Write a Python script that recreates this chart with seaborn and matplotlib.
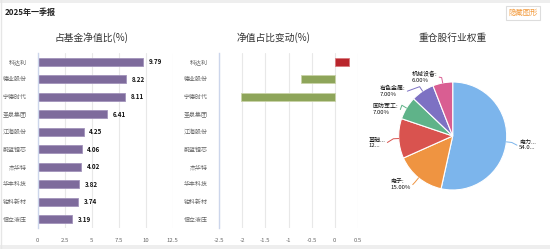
import numpy as np
import pandas as pd
import matplotlib
matplotlib.use("Agg")
import matplotlib.pyplot as plt
import seaborn as sns

sns.set_theme(style="white")
plt.rcParams['font.family'] = ['Noto Sans CJK SC', 'DejaVu Sans']
plt.rcParams['axes.unicode_minus'] = False

# ---------------- data ----------------
stocks = ['科达利', '德业股份', '宁德时代', '圣泉集团', '江海股份',
          '蔚蓝锂芯', '杰华特', '华丰科技', '铂科新材', '恒立液压']
nav_ratio = [9.79, 8.22, 8.11, 6.41, 4.25, 4.06, 4.02, 3.82, 3.74, 3.19]
change_stocks = ['科达利', '德业股份', '宁德时代']
change_values = [0.30, -0.72, -2.02]

industries = ['电力设备', '电子', '基础化工', '国防军工', '有色金属', '机械设备']
industry_labels = ['电力...\n54.0...', '电子:\n15.00%', '基础...\n12...',
                   '国防军工:\n7.00%', '有色金属:\n7.00%', '机械设备:\n6.00%']
industry_weights = [54.0, 15.0, 12.0, 7.0, 7.0, 6.0]

left_ticks = [0, 2.5, 5, 7.5, 10, 12.5]
mid_ticks = [-2.5, -2, -1.5, -1, -0.5, 0, 0.5]

# ---------------- figure ----------------
W, H = 550, 249
fig = plt.figure(figsize=(W / 100, H / 100), dpi=100)
fig.patch.set_facecolor('white')

def fx(px):
    return px / W

def fy(py):
    return 1 - py / H

# frame bands
fig.add_artist(plt.Rectangle((0, fy(3)), 1, 3 / H, transform=fig.transFigure,
                             facecolor='#eeeeee', edgecolor='none'))
fig.add_artist(plt.Rectangle((0, 0), 1, 4 / H, transform=fig.transFigure,
                             facecolor='#eeeeee', edgecolor='none'))
fig.add_artist(plt.Line2D([fx(1), fx(1)], [0, 1], transform=fig.transFigure,
                          color='#e6e6e6', lw=1))

fig.text(fx(5), fy(12), '2025年一季报', fontsize=5.8, fontweight='bold',
         color='#222222', ha='left', va='center')
fig.text(fx(523), fy(13), '隐藏图形', fontsize=5.3, color='#f39a3c',
         ha='center', va='center',
         bbox=dict(boxstyle='square,pad=0.35', facecolor='white',
                   edgecolor='#dddddd', lw=0.8))

title_kw = dict(fontsize=7, color='#333333', ha='center', va='center')
fig.text(fx(91), fy(38), '占基金净值比(%)', **title_kw)
fig.text(fx(274), fy(38), '净值占比变动(%)', **title_kw)
fig.text(fx(453), fy(38), '重仓股行业权重', **title_kw)

axis_col = '#ccd6eb'
grid_col = '#e8e8e8'

def style_bar_axis(ax, ticks):
    ax.set_xticks(ticks)
    ax.set_xticklabels([('%g' % t) for t in ticks])
    ax.set_xlim(ticks[0], ticks[-1])
    ax.set_ylim(len(stocks) - 0.5, -0.5)
    ax.set_xlabel('')
    ax.set_ylabel('')
    for s in ['top', 'right', 'bottom']:
        ax.spines[s].set_visible(False)
    ax.spines['left'].set_color(axis_col)
    ax.spines['left'].set_linewidth(1)
    ax.grid(axis='x', color=grid_col, lw=0.8)
    ax.set_axisbelow(True)
    ax.tick_params(axis='x', length=0, labelsize=4.3, labelcolor='#666666', pad=7)
    ax.tick_params(axis='y', which='major', length=0, labelsize=4.3,
                   labelcolor='#666666', pad=8)
    ax.set_yticks(np.arange(-0.5, len(stocks), 1), minor=True)
    ax.tick_params(axis='y', which='minor', length=3, color=axis_col, width=1)

# ---------------- left chart ----------------
ax1 = fig.add_axes([fx(37.7), fy(228), fx(135), 175 / H])
df1 = pd.DataFrame({'stock': stocks, 'value': nav_ratio})
sns.barplot(data=df1, y='stock', x='value', order=stocks, orient='h',
            color='#7e6b9c', saturation=1, width=0.44, ax=ax1,
            edgecolor='#a293bb', linewidth=0.6)
style_bar_axis(ax1, left_ticks)
for i, v in enumerate(nav_ratio):
    ax1.annotate(f'{v:.2f}', xy=(v, i), xytext=(4, 0), textcoords='offset points',
                 fontsize=4.5, fontweight='bold', color='#111111',
                 ha='left', va='center')

# ---------------- middle chart ----------------
ax2 = fig.add_axes([fx(219), fy(228), fx(139), 175 / H])
df2 = pd.DataFrame({'stock': change_stocks, 'value': change_values})
df2['sign'] = np.where(df2['value'] >= 0, 'up', 'down')
sns.barplot(data=df2, y='stock', x='value', order=stocks, orient='h',
            hue='sign', palette={'up': '#b9252c', 'down': '#8ea55a'},
            dodge=False, legend=False, saturation=1, width=0.44, ax=ax2,
            edgecolor='#c9d3a8', linewidth=0.6)
for p in ax2.patches:
    if p.get_width() > 0:
        p.set_edgecolor('#d87a7e')
style_bar_axis(ax2, mid_ticks)
ax2.set_yticks(range(len(stocks)))
ax2.set_yticklabels(stocks)

# ---------------- pie ----------------
cx, cy, r = 452.7, 136, 54
ax3 = fig.add_axes([fx(cx - r), fy(cy + r), fx(2 * r), 2 * r / H])
pie_colors = ['#7cb5ec', '#ef9441', '#d9534f', '#5fb389', '#7d71c3', '#d95e92']
wedges, _ = ax3.pie(industry_weights, colors=pie_colors, startangle=90,
                    counterclock=False, radius=1,
                    wedgeprops=dict(edgecolor='white', linewidth=0.8))
ax3.set_xlim(-1, 1)
ax3.set_ylim(-1, 1)
ax3.set_aspect('auto')

# label layout: (text x, text y) in pie units, horizontal alignment
label_pos = [(1.23, -0.17, 'left'), (-0.78, -0.90, 'right'),
             (-1.25, -0.12, 'right'), (-1.01, 0.49, 'right'),
             (-0.88, 0.83, 'right'), (-0.29, 1.09, 'right')]
for w, lab, col, (tx, ty, ha) in zip(wedges, industry_labels, pie_colors, label_pos):
    ang = np.deg2rad((w.theta1 + w.theta2) / 2)
    ex, ey = np.cos(ang), np.sin(ang)
    elx, ely = 1.1 * ex, 1.1 * ey
    endx = tx - 0.04 if ha == 'left' else tx + 0.04
    ax3.plot([ex, elx, endx], [ey, ely, ty], color=col, lw=0.7,
             clip_on=False)
    ax3.text(tx, ty, lab, fontsize=4.3, color='#111111', ha=ha, va='center',
             multialignment='left', linespacing=1.1, clip_on=False,
             fontweight='medium')

fig.savefig('out.png', dpi=100, facecolor='white')
